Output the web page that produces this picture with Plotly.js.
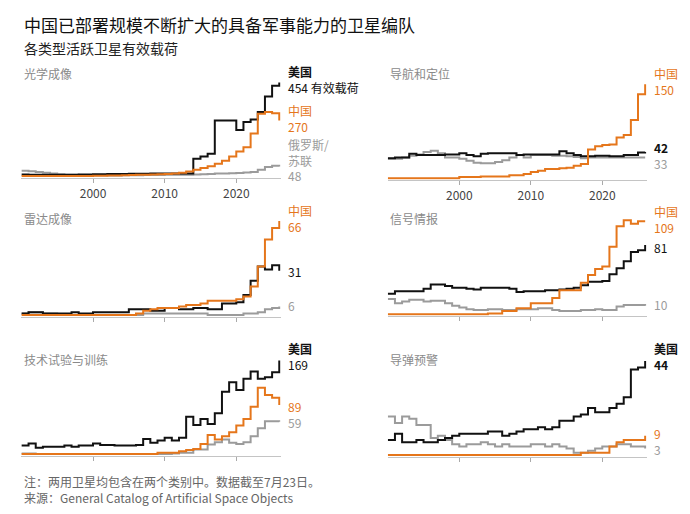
<!DOCTYPE html>
<html>
<head>
<meta charset="utf-8">
<script src="https://cdn.plot.ly/plotly-3.0.1.min.js"></script>
<style>
  body { margin: 0; background: #fff; }
</style>
</head>
<body>
<div id="chart" style="width:690px;height:514px"></div>
<script>
    'use strict';

    // years, 1990 .. 2026 (last point = value as of July 2025)
    var years = [1990, 1991, 1992, 1993, 1994, 1995, 1996, 1997, 1998, 1999,
                 2000, 2001, 2002, 2003, 2004, 2005, 2006, 2007, 2008, 2009,
                 2010, 2011, 2012, 2013, 2014, 2015, 2016, 2017, 2018, 2019,
                 2020, 2021, 2022, 2023, 2024, 2025, 2026];
    var tickYears = [2000, 2010, 2020];

    // 光学成像
    var opticalUS = [10, 9, 9, 8, 8, 8, 9, 9, 10, 10, 11, 11, 12, 12, 12, 13, 13, 13, 14, 14,
                     14, 14, 15, 15, 86, 97, 110, 271, 271, 271, 224, 263, 275, 311, 386, 438, 454];
    var opticalCN = [2, 2, 2, 2, 2, 2, 2, 3, 3, 3, 4, 4, 5, 5, 6, 7, 8, 9, 10, 11,
                     12, 14, 18, 24, 33, 41, 49, 62, 76, 97, 121, 141, 208, 303, 311, 306, 270];
    var opticalRU = [28, 25, 22, 18, 14, 11, 9, 8, 7, 6, 6, 6, 5, 5, 6, 6, 6, 7, 7, 7,
                     8, 8, 8, 9, 10, 11, 12, 14, 15, 16, 17, 19, 22, 32, 46, 52, 48];

    // 导航和定位
    var navUS = [32, 33, 33, 39, 37, 37, 37, 37, 38, 38, 40, 37, 35, 39, 40, 40, 40, 40, 37, 38,
                 38, 38, 38, 38, 43, 40, 37, 35, 35, 36, 36, 35, 35, 37, 37, 41, 42];
    var navCN = [0, 0, 0, 0, 0, 0, 0, 0, 0, 0, 2, 2, 2, 3, 3, 3, 3, 5, 5, 7,
                 10, 12, 15, 15, 16, 17, 20, 23, 46, 51, 53, 54, 65, 69, 93, 134, 150];
    var navRU = [31, 31, 33, 36, 38, 42, 44, 40, 33, 33, 31, 28, 25, 24, 24, 26, 29, 33, 37, 33,
                 37, 37, 37, 36, 36, 35, 34, 32, 33, 33, 33, 33, 33, 33, 33, 33, 33];

    // 雷达成像
    var radarUS = [1, 2, 2, 1, 1, 1, 1, 2, 1, 1, 2, 2, 2, 2, 2, 4, 4, 4, 3, 3,
                   5, 5, 4, 4, 5, 5, 4, 4, 8, 8, 9, 14, 24, 34, 32, 35, 31];
    var radarCN = [0, 0, 0, 0, 0, 0, 0, 0, 0, 0, 0, 0, 0, 0, 0, 0, 1, 3, 4, 5,
                   5, 5, 6, 7, 7, 8, 10, 10, 10, 10, 11, 13, 20, 34, 53, 61, 66];
    var radarRU = [1, 2, 2, 1, 1, 0, 0, 0, 0, 0, 0, 0, 0, 0, 0, 0, 0, 1, 1, 1,
                   1, 1, 1, 1, 1, 1, 0, 0, 0, 0, 0, 1, 1, 2, 4, 5, 6];

    // 信号情报
    var sigintUS = [24, 27, 27, 27, 27, 30, 35, 35, 33, 31, 31, 30, 29, 31, 31, 31, 31, 30, 26, 27,
                    27, 27, 28, 28, 29, 30, 31, 34, 38, 38, 39, 47, 54, 62, 73, 75, 81];
    var sigintCN = [0, 0, 0, 0, 0, 0, 0, 0, 0, 0, 0, 0, 0, 0, 1, 1, 4, 4, 7, 7,
                    13, 13, 13, 19, 28, 28, 28, 37, 46, 53, 56, 79, 103, 110, 106, 109, 109];
    var sigintRU = [18, 13, 15, 17, 17, 15, 16, 16, 13, 10, 8, 6, 5, 5, 6, 6, 5, 5, 6, 6,
                    6, 7, 7, 5, 4, 4, 4, 5, 5, 6, 5, 5, 9, 11, 11, 11, 10];

    // 技术试验与训练
    var techUS = [16, 20, 12, 14, 14, 14, 16, 14, 16, 16, 20, 17, 17, 16, 16, 16, 17, 28, 21, 25,
                  30, 25, 30, 68, 53, 64, 55, 74, 113, 130, 116, 136, 149, 136, 139, 148, 169];
    var techCN = [1, 1, 1, 1, 1, 1, 1, 1, 1, 1, 1, 1, 1, 1, 1, 1, 1, 1, 1, 3,
                  3, 3, 6, 8, 10, 19, 35, 27, 33, 40, 52, 64, 86, 120, 107, 102, 89];
    var techRU = [2, 2, 1, 1, 1, 1, 1, 1, 1, 1, 1, 1, 1, 1, 1, 1, 1, 1, 1, 1,
                  1, 2, 3, 3, 9, 9, 18, 22, 27, 21, 19, 22, 33, 47, 60, 60, 59];

    // 导弹预警
    var warnUS = [7, 10, 6, 6, 7, 6, 6, 7, 8, 9, 10, 10, 10, 10, 11, 11, 9, 10, 11, 12,
                  12, 13, 12, 13, 16, 16, 18, 19, 22, 20, 20, 22, 24, 27, 40, 41, 44];
    var warnCN = [0, 0, 0, 0, 0, 0, 0, 0, 0, 0, 0, 0, 0, 0, 0, 0, 0, 0, 0, 0,
                  0, 0, 0, 0, 0, 0, 0, 1, 1, 1, 1, 4, 6, 7, 7, 7, 9];
    var warnRU = [18, 15, 18, 17, 14, 14, 8, 9, 7, 5, 4, 5, 5, 6, 5, 4, 5, 4, 4, 4,
                  5, 5, 4, 5, 4, 3, 1, 1, 2, 3, 4, 4, 5, 5, 4, 4, 3];

    var W = 690, H = 514;
    var BLACK = '#111111', ORANGE = '#e5761b', GRAY = '#9b9b9b';
    var FONT = '"Noto Sans CJK SC", "Noto Sans", sans-serif';

    // pixel -> paper helpers
    function px(x) { return x / W; }
    function py(y) { return 1 - y / H; }

    var LEFT = [21.4, 280.7], RIGHT = [387.8, 646.6];

    var panels = [
        { title: '光学成像', cols: LEFT, base: 176.5, titleY: 74, ticklabels: true,
          series: [opticalRU, opticalUS, opticalCN] },
        { title: '导航和定位', cols: RIGHT, base: 178.3, titleY: 74, ticklabels: true,
          series: [navRU, navUS, navCN] },
        { title: '雷达成像', cols: LEFT, base: 315, titleY: 218, ticklabels: false,
          series: [radarRU, radarUS, radarCN] },
        { title: '信号情报', cols: RIGHT, base: 314.3, titleY: 218, ticklabels: false,
          series: [sigintRU, sigintUS, sigintCN] },
        { title: '技术试验与训练', cols: LEFT, base: 454.5, titleY: 359, ticklabels: false,
          series: [techRU, techUS, techCN] },
        { title: '导弹预警', cols: RIGHT, base: 455, titleY: 359, ticklabels: false,
          series: [warnRU, warnUS, warnCN] }
    ];
    var colors = [GRAY, BLACK, ORANGE];

    var data = [];
    var layout = {
        width: W, height: H,
        margin: { l: 0, r: 0, t: 0, b: 0 },
        paper_bgcolor: '#fff', plot_bgcolor: 'rgba(0,0,0,0)',
        showlegend: false,
        font: { family: FONT, size: 12, color: '#333' },
        annotations: []
    };

    panels.forEach(function (p, i) {
        var n = i + 1;
        var maxv = Math.max.apply(null, p.series[0].concat(p.series[1], p.series[2]));
        var k = 94 / maxv; // px per unit

        layout['xaxis' + (n > 1 ? n : '')] = {
            domain: [px(p.cols[0]), px(p.cols[1])],
            range: [1990, 2026.2],
            anchor: 'y' + n,
            showgrid: false, zeroline: false,
            showline: true, linecolor: '#c4c4c4', linewidth: 1.3,
            ticks: 'outside', ticklen: 4, tickwidth: 1, tickcolor: '#aaa',
            tickvals: tickYears,
            showticklabels: p.ticklabels,
            tickfont: { family: FONT, size: 12, color: '#444' },
            fixedrange: true
        };
        layout['yaxis' + (n > 1 ? n : '')] = {
            domain: [py(p.base + 1.5), py(p.base - 100)],
            range: [-1.5 / k, 100 / k],
            anchor: 'x' + n,
            visible: false, fixedrange: true
        };

        p.series.forEach(function (s, j) {
            data.push({
                x: years, y: s,
                xaxis: 'x' + n, yaxis: 'y' + n,
                type: 'scatter', mode: 'lines',
                line: { shape: 'hv', color: colors[j], width: 2 },
                hoverinfo: 'skip'
            });
        });

        layout.annotations.push({
            text: p.title, xref: 'paper', yref: 'paper',
            x: px(p.cols[0] + 0.6), y: py(p.titleY),
            xanchor: 'left', yanchor: 'middle', showarrow: false,
            font: { family: FONT, size: 12, color: '#8a8a8a' }
        });
    });

    // end-of-line labels: [text, x px, centre y px, color]
    var endLabels = [
        ['<b>美国</b><br>454 有效载荷', 286, 79.5, BLACK],
        ['中国<br>270', 286, 118.3, ORANGE],
        ['俄罗斯/<br>苏联<br>48', 286, 159.5, GRAY],

        ['中国<br>150', 652, 81.8, ORANGE],
        ['<b>42</b>', 652, 147.5, BLACK], ['33', 652, 163.5, GRAY],

        ['中国<br>66', 286, 218.8, ORANGE],
        ['31', 286, 271, BLACK], ['6', 286, 305, GRAY],

        ['中国<br>109', 652, 219.4, ORANGE],
        ['81', 652, 247, BLACK], ['10', 652, 304, GRAY],

        ['<b>美国</b><br>169', 286, 356.2, BLACK],
        ['89', 286, 406.7, ORANGE], ['59', 286, 422, GRAY],

        ['<b>美国</b><br><b>44</b>', 652, 356.7, BLACK],
        ['9', 652, 433, ORANGE], ['3', 652, 449, GRAY]
    ];
    endLabels.forEach(function (l) {
        layout.annotations.push({
            text: l[0],
            xref: 'paper', yref: 'paper', x: px(l[1]), y: py(l[2]),
            xanchor: 'left', yanchor: 'middle', align: 'left', showarrow: false,
            font: { family: FONT, size: 12, color: l[3] }
        });
    });

    // title, subtitle, footnotes (note + source as one two-line block)
    var texts = [
        ['中国已部署规模不断扩大的具备军事能力的卫星编队', 24.5, 17, '#111'],
        ['各类型活跃卫星有效载荷', 47.5, 14, '#222'],
        ['注：两用卫星均包含在两个类别中。数据截至7月23日。<br>来源：General Catalog of Artificial Space Objects', 489.1, 12, '#666']
    ];
    texts.forEach(function (t) {
        layout.annotations.push({
            text: t[0], xref: 'paper', yref: 'paper', x: px(21.5), y: py(t[1]),
            xanchor: 'left', yanchor: 'middle', align: 'left', showarrow: false,
            font: { family: FONT, size: t[2], color: t[3] }
        });
    });

    Plotly.newPlot('chart', data, layout, { displayModeBar: false, staticPlot: true });
</script>
</body>
</html>
